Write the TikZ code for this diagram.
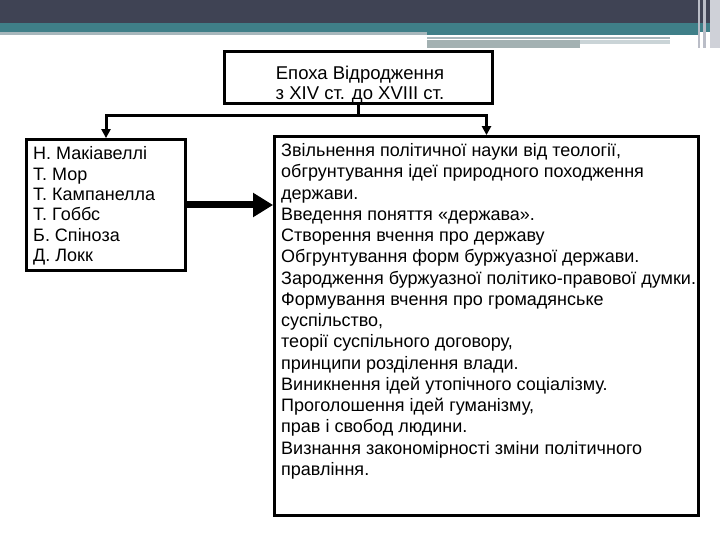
\documentclass[tikz,border=0pt]{standalone}
\usepackage{fontspec}
\setmainfont{Liberation Sans}
\usetikzlibrary{positioning,arrows.meta}

\definecolor{banddark}{HTML}{3F4354}
\definecolor{bandteal}{HTML}{3F7F88}
\definecolor{bandlight}{HTML}{A7B7BC}
\definecolor{bandgray}{HTML}{A3B1B2}
\definecolor{bandedge}{HTML}{BABDC7}

\tikzset{
  box/.style={draw, line width=2.8pt, inner sep=0pt},
  listtext/.style={inner sep=0pt, anchor=north west, align=left},
  link/.style={line width=3pt},
  tip/.style={-{Triangle[length=9pt,width=9pt]}},
  bigtip/.style={line width=7pt, -{Triangle[length=20pt,width=23pt]}}
}

\begin{document}
\begin{tikzpicture}[x=1pt, y=-1pt]
  \useasboundingbox (0,0) rectangle (720,540);

  % slide header band
  \fill[banddark] (0,0) rectangle (720,23);
  \fill[bandteal] (0,23) rectangle (720,32);
  \fill[bandlight] (0,32) rectangle (427,35);
  \fill[bandteal] (427,32) rectangle (698,35.5);
  \fill[bandlight] (427,37.5) rectangle (670,39);
  \fill[bandgray] (427,40) rectangle (580,48);
  \fill[bandlight!60] (580,40) rectangle (670,44);
  \fill[bandedge] (698,0) rectangle (700,48);
  \fill[bandedge] (703,0) rectangle (706,48);
  \fill[bandedge!70] (710,0) rectangle (720,48);

  % boxes
  \node[box, minimum width=268pt, minimum height=52pt] (epoch) at (358.5,77.5) {};
  \node[box, minimum width=159pt, minimum height=131pt] (thinkers) at (106,205) {};
  \node[box, minimum width=424pt, minimum height=379pt] (ideas) at (486.5,326) {};

  % texts
  \node[inner sep=0pt, anchor=north, align=center,
        font=\fontsize{18.5}{20}\selectfont] (epochtext) at (360,65.4)
    {Епоха Відродження\\з XIV ст. до XVIII ст.};
  \node[listtext, font=\fontsize{18}{20.4}\selectfont] (thinkerstext) at (33,146.5)
    {Н. Макіавеллі\\Т. Мор\\Т. Кампанелла\\Т. Гоббс\\Б. Спіноза\\Д. Локк};
  \node[listtext, font=\fontsize{18}{21.25}\selectfont] (ideastext) at (281,143.5)
    {Звільнення політичної науки від теології,\\
     обгрунтування ідеї природного походження\\
     держави.\\
     Введення поняття «держава».\\
     Створення вчення про державу\\
     Обгрунтування форм буржуазної держави.\\
     Зародження буржуазної політико-правової думки.\\
     Формування вчення про громадянське\\
     суспільство,\\
     теорії суспільного договору,\\
     принципи розділення влади.\\
     Виникнення ідей утопічного соціалізму.\\
     Проголошення ідей гуманізму,\\
     прав і свобод людини.\\
     Визнання закономірності зміни політичного\\
     правління.};

  % connectors
  \coordinate (fork) at ([yshift=-11pt]epoch.south);
  \draw[link] (epoch.south) -- (fork);
  \draw[link, tip] (fork) -| (thinkers.north);
  \draw[link, tip] (fork) -| (ideas.north);
  \draw[bigtip] (thinkers.east) -- (thinkers.east -| ideas.west);
\end{tikzpicture}
\end{document}
